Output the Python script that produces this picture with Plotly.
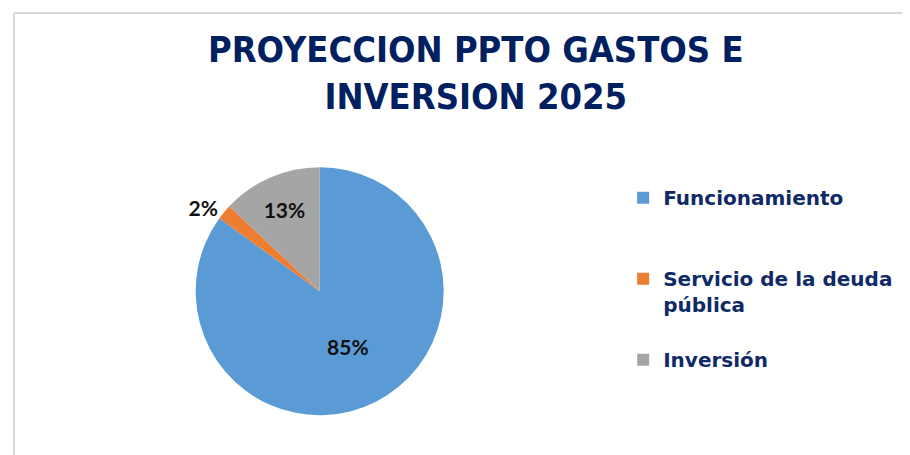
import plotly.graph_objects as go

categories = ["Funcionamiento", "Servicio de la deuda pública", "Inversión"]
legend_labels = ["Funcionamiento<br> <br> ", "Servicio de la deuda<br>pública<br> ", "Inversión"]
values = [85, 2, 13]
colors = ["#5B9BD5", "#ED7D31", "#A5A5A5"]
text_positions = ["inside", "outside", "inside"]
title_text = "PROYECCION PPTO GASTOS E<br>INVERSION 2025"

fig = go.Figure(go.Pie(
    labels=legend_labels,
    values=values,
    sort=False,
    direction="clockwise",
    rotation=0,
    marker=dict(colors=colors, line=dict(width=0)),
    textinfo="percent",
    texttemplate="%{percent:.0%}",
    textposition=text_positions,
    insidetextorientation="horizontal",
    textfont=dict(family="Lato, Noto Sans, sans-serif", size=21, color="#111111", weight="bold"),
    hovertext=categories,
    hoverinfo="text+percent",
    domain=dict(x=[0.206, 0.479], y=[0.105, 0.65]),
))

fig.update_layout(
    width=910, height=455,
    margin=dict(l=0, r=0, t=0, b=0),
    paper_bgcolor="white",
    plot_bgcolor="white",
    title=dict(
        text=title_text,
        x=0.514, xanchor="center",
        y=0.881, yanchor="middle",
        font=dict(family="Liberation Sans Narrow, DejaVu Sans Condensed, Arial Narrow, sans-serif",
                  size=36, color="#002060", weight="bold"),
    ),
    legend=dict(
        x=0.676, xanchor="left",
        y=0.626, yanchor="top",
        valign="top",
        font=dict(family="DejaVu Sans, Liberation Sans, sans-serif", size=20, color="#0F2A66", weight="bold"),
        bgcolor="rgba(0,0,0,0)",
    ),
    shapes=[
        dict(type="line", xref="paper", yref="paper", x0=0.0066, x1=0.0066, y0=0, y1=0.989,
             line=dict(color="#D9D9D9", width=2)),
        dict(type="line", xref="paper", yref="paper", x0=0.0066, x1=1, y0=0.989, y1=0.989,
             line=dict(color="#D9D9D9", width=2)),
    ],
)

fig.write_html("out.html")
